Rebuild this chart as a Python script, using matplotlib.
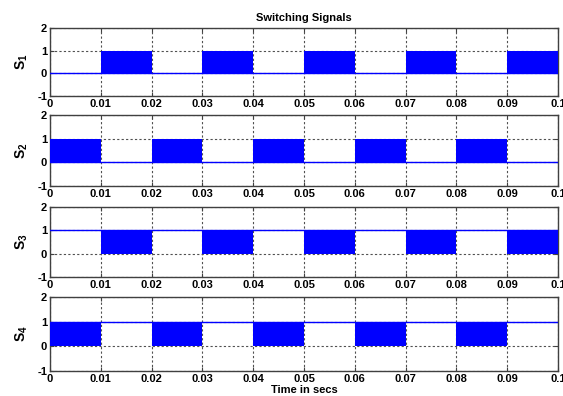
import numpy as np
import matplotlib
matplotlib.use('Agg')
import matplotlib.pyplot as plt

plt.rcParams['font.family'] = ['Liberation Sans', 'DejaVu Sans']
plt.rcParams['font.weight'] = 'bold'
plt.rcParams['mathtext.fontset'] = 'custom'
plt.rcParams['mathtext.rm'] = 'Liberation Sans:bold'
plt.rcParams['mathtext.bf'] = 'Liberation Sans:bold'
plt.rcParams['mathtext.it'] = 'Liberation Sans:bold'
plt.rcParams['axes.unicode_minus'] = False

# segment edges (s) and switching state per 10 ms segment (1 = PWM block)
t_edges = [0, 0.01, 0.02, 0.03, 0.04, 0.05, 0.06, 0.07, 0.08, 0.09, 0.1]
s1_pwm = [0, 1, 0, 1, 0, 1, 0, 1, 0, 1]
s2_pwm = [1, 0, 1, 0, 1, 0, 1, 0, 1, 0]
s3_pwm = [0, 1, 0, 1, 0, 1, 0, 1, 0, 1]
s4_pwm = [1, 0, 1, 0, 1, 0, 1, 0, 1, 0]
# level of the signal outside the PWM blocks
idle_levels = [0, 0, 1, 1]
labels = ['S_1', 'S_2', 'S_3', 'S_4']
xticks = [0, 0.01, 0.02, 0.03, 0.04, 0.05, 0.06, 0.07, 0.08, 0.09, 0.1]
xtick_labels = ['0', '0.01', '0.02', '0.03', '0.04', '0.05', '0.06', '0.07', '0.08', '0.09', '0.1']
yticks = [-1, 0, 1, 2]

W, H = 563, 396
fig = plt.figure(figsize=(W / 100, H / 100), dpi=100)

# axes boxes in pixels: (left, top, right, bottom)
boxes = [(50, 28, 558, 96), (50, 115, 558, 186), (50, 207, 558, 277), (50, 297, 558, 371)]

series = [s1_pwm, s2_pwm, s3_pwm, s4_pwm]
for i, (pwm, lvl, lab, b) in enumerate(zip(series, idle_levels, labels, boxes)):
    l, t, r, btm = b
    ax = fig.add_axes([l / W, 1 - btm / H, (r - l) / W, (btm - t) / H])
    # switching blocks
    top = np.append(pwm, pwm[-1])
    ax.fill_between(t_edges, 0, top, step='post', color='#0000ff', lw=0, zorder=3)
    ax.plot([t_edges[0], t_edges[-1]], [lvl, lvl], color='#0000ff', lw=1, zorder=4)
    ax.set_xlim(0, 0.1)
    ax.set_ylim(-1, 2)
    ax.set_xticks(xticks)
    ax.set_xticklabels(xtick_labels)
    ax.set_yticks(yticks)
    ax.tick_params(direction='in', length=3, labelsize=8, pad=2, top=True, right=True,
                   color='#404040')
    ax.grid(True, color='#505050', linestyle=(0, (2, 2)), lw=0.8, zorder=1)
    ax.set_axisbelow(True)
    for sp in ax.spines.values():
        sp.set_color('#404040')
        sp.set_linewidth(1)
    ax.set_ylabel(r'$\mathbf{' + lab + '}$', fontsize=10, labelpad=5)
    if i == 0:
        ax.set_title('Switching Signals', fontsize=8, fontweight='bold', pad=5)
    if i == 3:
        ax.set_xlabel('Time in secs', fontsize=8, fontweight='bold', labelpad=1)

fig.savefig('out.png', dpi=100)
